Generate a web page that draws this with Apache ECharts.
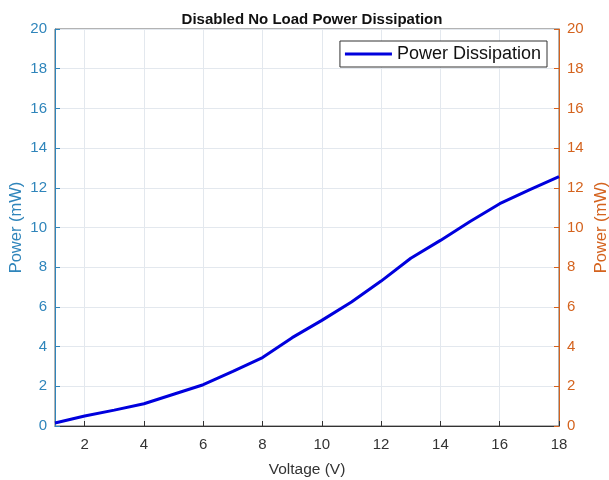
<!DOCTYPE html>
<html>
<head>
<meta charset="utf-8">
<script src="https://cdn.jsdelivr.net/npm/echarts@6/dist/echarts.min.js"></script>
<style>html,body{margin:0;padding:0;background:#fff}#c{width:609px;height:480px}</style>
</head>
<body>
<div id="c"></div>
<script>
var voltage = [1, 2, 3, 4, 5, 6, 7, 8, 9, 10, 11, 12, 13, 14, 15, 16, 17, 18];
var power = [0.15, 0.5, 0.8, 1.12, 1.6, 2.08, 2.75, 3.45, 4.45, 5.32, 6.25, 7.3, 8.45, 9.35, 10.3, 11.2, 11.9, 12.56];
var xTicks = [2, 4, 6, 8, 10, 12, 14, 16, 18];
var yTicks = [0, 2, 4, 6, 8, 10, 12, 14, 16, 18, 20];

var FONT = '"Liberation Sans", Arial, sans-serif';
var LEFT_C = '#2f85bb';
var RIGHT_C = '#d4631e';
var chart = echarts.init(document.getElementById('c'));
var data = voltage.map(function (v, i) { return [v, power[i]]; });
chart.setOption({
  animation: false,
  backgroundColor: '#fff',
  title: {
    text: 'Disabled No Load Power Dissipation',
    left: 307, top: 7, textAlign: 'center',
    textStyle: { fontFamily: FONT, fontSize: 15, fontWeight: 'bold', color: '#111' }
  },
  grid: { left: 55, right: 50, top: 29, bottom: 54, show: true, borderColor: '#666', borderWidth: 1,
    containLabel: false, outerBoundsMode: 'none' },
  legend: {
    right: 62, top: 41,
    data: ['Power Dissipation'],
    icon: 'rect', itemWidth: 47, itemHeight: 3, itemGap: 4,
    padding: [4, 6, 4, 5],
    borderColor: '#333', borderWidth: 1, backgroundColor: '#fff',
    textStyle: { fontFamily: FONT, fontSize: 18, color: '#111' }
  },
  xAxis: {
    type: 'value', min: 1, max: 18,
    name: 'Voltage (V)', nameLocation: 'middle', nameGap: 36, nameMoveOverlap: false,
    nameTextStyle: { fontFamily: FONT, fontSize: 15.5, color: '#333' },
    axisLine: { lineStyle: { color: '#333' } },
    axisTick: { inside: true, length: 5, lineStyle: { color: '#333' }, customValues: xTicks },
    axisLabel: { fontFamily: FONT, fontSize: 15, color: '#333', margin: 11, customValues: xTicks },
    splitLine: { show: true, lineStyle: { color: '#e3e8ee' } }
  },
  yAxis: [{
    type: 'value', min: 0, max: 20, interval: 2, position: 'left',
    name: 'Power (mW)', nameLocation: 'middle', nameGap: 30, nameMoveOverlap: false,
    nameTextStyle: { fontFamily: FONT, fontSize: 16.5, color: LEFT_C },
    axisLine: { show: true, lineStyle: { color: LEFT_C } },
    axisTick: { show: true, inside: true, length: 5, lineStyle: { color: LEFT_C } },
    axisLabel: { fontFamily: FONT, fontSize: 15, color: LEFT_C, margin: 8 },
    splitLine: { show: true, lineStyle: { color: '#e3e8ee' } }
  }, {
    type: 'value', min: 0, max: 20, interval: 2, position: 'right',
    name: 'Power (mW)', nameLocation: 'middle', nameGap: 34, nameMoveOverlap: false,
    nameTextStyle: { fontFamily: FONT, fontSize: 16.5, color: RIGHT_C },
    axisLine: { show: true, lineStyle: { color: RIGHT_C } },
    axisTick: { show: true, inside: true, length: 5, lineStyle: { color: RIGHT_C } },
    axisLabel: { fontFamily: FONT, fontSize: 15, color: RIGHT_C, margin: 8 },
    splitLine: { show: false }
  }],
  series: [{
    name: 'Power Dissipation', type: 'line', data: data,
    yAxisIndex: 0, showSymbol: false, symbol: 'none',
    lineStyle: { color: '#0000dd', width: 3 }, itemStyle: { color: '#0000dd' }
  }]
});
</script>
</body>
</html>
